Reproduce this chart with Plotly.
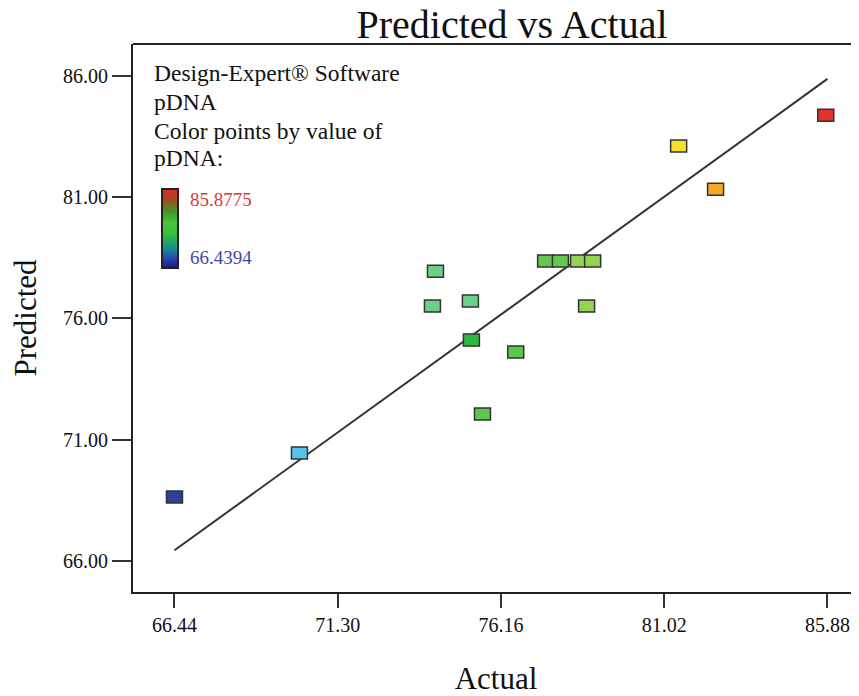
import plotly.graph_objects as go

# ---- data ----
actual = [66.44, 70.16, 74.21, 74.12, 75.25, 75.28, 76.60, 75.61,
          77.49, 77.93, 78.47, 78.89, 78.71, 81.45, 82.55, 85.83]
predicted = [68.64, 70.45, 77.95, 76.51, 76.72, 75.11, 74.62, 72.06,
             78.37, 78.37, 78.37, 78.37, 76.51, 83.11, 81.33, 84.38]
point_colors = ['#2e3f9e', '#55c4ea', '#6dd08a', '#6dd08a', '#6dd08a', '#30b840',
                '#5cc84e', '#5cc84e', '#66c84e', '#66c84e', '#94d44e', '#94d44e',
                '#94d44e', '#f5e02a', '#f7a820', '#e0322a']
x_ticks = [66.44, 71.30, 76.16, 81.02, 85.88]
x_ticktext = ['66.44', '71.30', '76.16', '81.02', '85.88']
y_ticks = [66, 71, 76, 81, 86]
y_ticktext = ['66.00', '71.00', '76.00', '81.00', '86.00']
fit_line = [66.44, 85.88]
cmin, cmax = 66.4394, 85.8775

FONT = 'Liberation Serif'
OFF = 8  # page body margin
W, H = 859 - OFF, 696 - OFF
L, R, T, B = 133 - OFF, 0, 44 - OFF, 104
PW, PH = W - L - R, H - T - B


def px(xp):
    return (xp - OFF - L) / PW


def py(yp):
    return (H - B - (yp - OFF)) / PH


fig = go.Figure()

# 1:1 line
fig.add_trace(go.Scatter(x=fit_line, y=fit_line, mode='lines',
                         line=dict(color='#333333', width=2),
                         hoverinfo='skip', showlegend=False))

# points (transparent, for hover + colour bar)
colorscale = [[0.0, '#1c1c7a'], [0.1, '#2a3aa8'], [0.22, '#1c7fa0'],
              [0.33, '#20a860'], [0.45, '#3cc040'], [0.58, '#48c43c'],
              [0.7, '#3a9a28'], [0.8, '#7a6a20'], [0.9, '#b83a20'], [1.0, '#d8302a']]
fig.add_trace(go.Scatter(
    x=actual, y=predicted, mode='markers',
    marker=dict(size=14, symbol='square', opacity=0, color=actual,
                cmin=cmin, cmax=cmax, colorscale=colorscale, showscale=True,
                colorbar=dict(x=px(162), xanchor='left', y=py(228.5), yanchor='middle',
                              len=79, lenmode='pixels', thickness=16,
                              outlinewidth=2, outlinecolor='#222222',
                              showticklabels=False, ticks='', xpad=0, ypad=0)),
    showlegend=False))

shapes = []
for a, p, c in zip(actual, predicted, point_colors):
    shapes.append(dict(type='rect', xref='x', yref='y', xsizemode='pixel', ysizemode='pixel',
                       xanchor=a, yanchor=p, x0=-8, x1=8, y0=-6, y1=6,
                       fillcolor=c, line=dict(color='#333333', width=1.5), layer='above'))
# top frame line
shapes.append(dict(type='line', xref='paper', yref='paper', x0=0, x1=1, y0=1, y1=1,
                   line=dict(color='#222222', width=2)))

annotations = [
    dict(text='85.8775', x=px(188), y=py(199), xref='paper', yref='paper',
         showarrow=False, font=dict(family=FONT, size=19, color='#d83a3a'),
         xanchor='left', yanchor='middle'),
    dict(text='66.4394', x=px(188), y=py(257), xref='paper', yref='paper',
         showarrow=False, font=dict(family=FONT, size=19, color='#3a4aa8'),
         xanchor='left', yanchor='middle'),
]
for txt, yc in [('Design-Expert® Software', 73), ('pDNA', 102),
                ('Color points by value of', 131), ('pDNA:', 158)]:
    annotations.append(dict(text=txt, x=px(152), y=py(yc), xref='paper', yref='paper',
                            showarrow=False, font=dict(family=FONT, size=23.5, color='#111111'),
                            xanchor='left', yanchor='middle'))

axis_common = dict(showgrid=False, zeroline=False, showline=True, linecolor='#222222',
                   linewidth=2, ticks='outside', tickcolor='#333333', tickwidth=2,
                   tickfont=dict(family=FONT, size=20, color='#111111'))

fig.update_layout(
    width=W, height=H, margin=dict(l=L, r=R, t=T, b=B),
    paper_bgcolor='white', plot_bgcolor='white',
    title=dict(text='Predicted vs Actual', x=(512 - OFF) / W, xanchor='center',
               xref='container', y=1 - (24 - OFF) / H, yanchor='middle', yref='container',
               font=dict(family=FONT, size=40, color='#111111')),
    xaxis=dict(range=[65.205, 86.82], tickvals=x_ticks, ticktext=x_ticktext,
               ticklen=14,
               title=dict(text='Actual', standoff=38,
                          font=dict(family=FONT, size=31, color='#111111')),
               **axis_common),
    yaxis=dict(range=[64.72, 87.32], tickvals=y_ticks, ticktext=y_ticktext,
               ticklen=19,
               title=dict(text='Predicted', standoff=20,
                          font=dict(family=FONT, size=31, color='#111111')),
               **axis_common),
    shapes=shapes, annotations=annotations, showlegend=False,
)

fig.write_html('out.html')
